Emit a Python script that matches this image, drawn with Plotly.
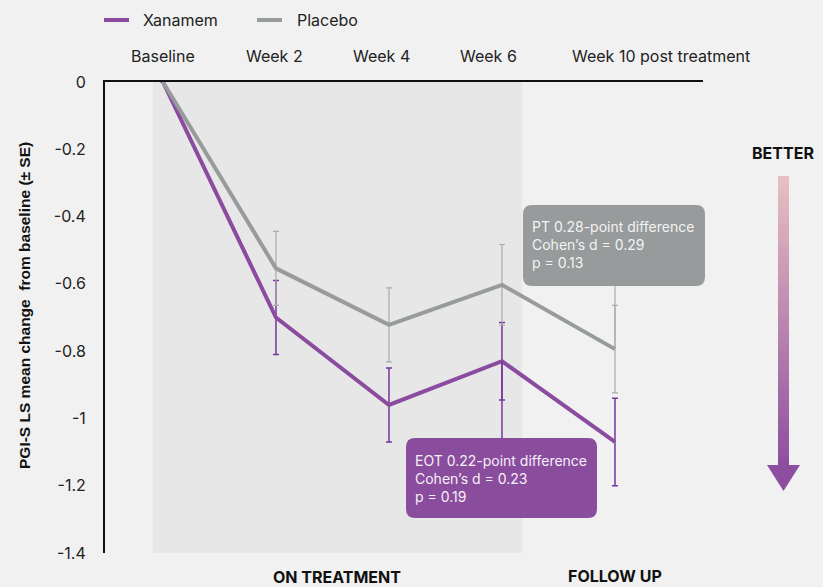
import plotly.graph_objects as go

# ---------------- data ----------------
categories = ["Baseline", "Week 2", "Week 4", "Week 6", "Week 10 post treatment"]
xanamem_mean = [0.0, -0.70, -0.96, -0.83, -1.07]
xanamem_se = [0.0, 0.11, 0.11, 0.115, 0.13]
placebo_mean = [0.0, -0.554, -0.722, -0.603, -0.794]
placebo_se = [0.0, 0.11, 0.11, 0.12, 0.13]
series_names = ["Xanamem", "Placebo"]
y_ticks = [0, -0.2, -0.4, -0.6, -0.8, -1.0, -1.2, -1.4]
y_tick_text = ["0", "-0.2", "-0.4", "-0.6", "-0.8", "-1", "-1.2", "-1.4"]
label_offsets = [0.0, -0.01, -0.07, -0.115, 0.41]   # header label shift (category units)

eot_text = "EOT 0.22-point difference<br>Cohen’s d = 0.23<br>p = 0.19"
pt_text = "PT 0.28-point difference<br>Cohen’s d = 0.29<br>p = 0.13"

# ---------------- styling ----------------
W, H = 823, 587
ML, MR, MT, MB = 105, 120, 82, 34
PW, PH = W - ML - MR, H - MT - MB
XR = [-0.513, 4.779]
YR = [-1.4, 0.0]
BG = "#f1f1f1"
PURPLE = "#8b4b9f"
PURPLE_ERR = "#7636a0"
GRAY = "#979b9c"
GRAY_ERR = "#ababab"
FONT = "Inter"
TXT = "#222222"

x_idx = list(range(len(categories)))


def px_x(px):  # pixel -> paper x
    return (px - ML) / PW


def px_y(py):  # pixel -> paper y
    return (H - MB - py) / PH


def paper_y_to_data(py_paper):
    return YR[0] + py_paper * (YR[1] - YR[0])


fig = go.Figure()

fig.add_trace(go.Scatter(
    x=x_idx, y=xanamem_mean, mode="lines", name=series_names[0],
    line=dict(color=PURPLE, width=4),
    error_y=dict(type="data", array=xanamem_se, color=PURPLE_ERR, thickness=1.5, width=3),
))
fig.add_trace(go.Scatter(
    x=x_idx, y=placebo_mean, mode="lines", name=series_names[1],
    line=dict(color=GRAY, width=4),
    error_y=dict(type="data", array=placebo_se, color=GRAY_ERR, thickness=1.2, width=3),
))

shapes = []
# on-treatment shaded band
shapes.append(dict(type="rect", xref="x", yref="y", x0=x_idx[0] - 0.09, x1=x_idx[3] + 0.18,
                   y0=YR[0], y1=YR[1], fillcolor="#e7e7e7", line=dict(width=0), layer="below"))


def rounded_rect(x0, y0, x1, y1, r):
    X0, X1 = px_x(x0), px_x(x1)
    Y0, Y1 = px_y(y1), px_y(y0)  # Y0 bottom, Y1 top (paper)
    rx, ry = r / PW, r / PH
    return (f"M{X0+rx},{Y1} L{X1-rx},{Y1} Q{X1},{Y1} {X1},{Y1-ry} "
            f"L{X1},{Y0+ry} Q{X1},{Y0} {X1-rx},{Y0} L{X0+rx},{Y0} "
            f"Q{X0},{Y0} {X0},{Y0+ry} L{X0},{Y1-ry} Q{X0},{Y1} {X0+rx},{Y1} Z")


EOT_BOX = (406, 438, 597, 518)
PT_BOX = (523, 205, 705, 286)

# connectors from boxes to the data points
shapes.append(dict(type="line", xref="x", yref="y", x0=x_idx[3], x1=x_idx[3],
                   y0=xanamem_mean[3], y1=paper_y_to_data(px_y(EOT_BOX[1])),
                   line=dict(color=PURPLE_ERR, width=1.5)))
shapes.append(dict(type="line", xref="x", yref="y", x0=x_idx[4], x1=x_idx[4],
                   y0=placebo_mean[4], y1=paper_y_to_data(px_y(PT_BOX[3])),
                   line=dict(color=GRAY_ERR, width=1.2)))

shapes.append(dict(type="path", xref="paper", yref="paper", path=rounded_rect(*EOT_BOX, 9),
                   fillcolor="#8a4c9d", line=dict(width=0)))
shapes.append(dict(type="path", xref="paper", yref="paper", path=rounded_rect(*PT_BOX, 9),
                   fillcolor="#979b9c", line=dict(width=0)))

# manual legend
for (lx, name, col) in [(104, series_names[0], PURPLE), (257, series_names[1], GRAY)]:
    shapes.append(dict(type="line", xref="paper", yref="paper", x0=px_x(lx), x1=px_x(lx + 25),
                       y0=px_y(20), y1=px_y(20), line=dict(color=col, width=4)))

# gradient arrow "BETTER"
top_c = (231, 191, 193)
bot_c = (142, 78, 159)
sx0, sx1, sy0, sy1 = 778, 789, 176, 466
N = 80
for i in range(N):
    t = i / (N - 1)
    c = tuple(int(round(top_c[k] + (bot_c[k] - top_c[k]) * t)) for k in range(3))
    ya = sy0 + (sy1 - sy0) * i / N
    yb = sy0 + (sy1 - sy0) * (i + 1) / N + 0.6
    shapes.append(dict(type="rect", xref="paper", yref="paper",
                       x0=px_x(sx0), x1=px_x(sx1), y0=px_y(yb), y1=px_y(ya),
                       fillcolor=f"rgb{c}", line=dict(width=0)))
shapes.append(dict(type="path", xref="paper", yref="paper",
                   path=f"M{px_x(767)},{px_y(465)} L{px_x(800)},{px_y(465)} L{px_x(783.5)},{px_y(491)} Z",
                   fillcolor="rgb(142,78,159)", line=dict(width=0)))

annotations = []


def ann(x, y, text, size, xanchor="center", yanchor="middle", color=TXT, family=FONT, **kw):
    annotations.append(dict(x=px_x(x), y=px_y(y), xref="paper", yref="paper", text=text,
                            showarrow=False, xanchor=xanchor, yanchor=yanchor,
                            font=dict(family=family, size=size, color=color), **kw))


for i, (cat, off) in enumerate(zip(categories, label_offsets)):
    annotations.append(dict(x=x_idx[i] + off, xref="x", y=px_y(56), yref="paper", text=cat,
                            showarrow=False, font=dict(family=FONT, size=16, color=TXT),
                            xanchor="center", yanchor="middle"))

ann(141, 20, series_names[0], 16, xanchor="left")
ann(295, 20, series_names[1], 16, xanchor="left")

ann(413, (EOT_BOX[1] + EOT_BOX[3]) / 2, eot_text, 14, xanchor="left", color="#f6f0f8", align="left")
ann(530, (PT_BOX[1] + PT_BOX[3]) / 2 - 1, pt_text, 14, xanchor="left", color="#f3f3f3", align="left")

ann(24, 306, "<b>PGI-S LS mean change  from baseline (± SE)</b>", 15.5, color="#111111",
    family="Liberation Sans", textangle=-90)
ann(337, 577, "<b>ON TREATMENT</b>", 16, color="#111111")
ann(615, 576, "<b>FOLLOW UP</b>", 16, color="#111111")
ann(783, 153, "<b>BETTER</b>", 16, color="#111111")

fig.update_layout(
    width=W, height=H,
    margin=dict(l=ML, r=MR, t=MT, b=MB, pad=0, autoexpand=False),
    paper_bgcolor=BG, plot_bgcolor=BG,
    font=dict(family=FONT, size=16, color=TXT),
    showlegend=False,
    xaxis=dict(range=XR, side="top", showgrid=False, zeroline=False, showline=True,
               linecolor="#111111", linewidth=2, showticklabels=False, ticks="", fixedrange=True),
    yaxis=dict(range=YR, tickvals=y_ticks, ticktext=y_tick_text, showgrid=False, zeroline=False,
               showline=True, linecolor="#111111", linewidth=2, ticks="outside", ticklen=14,
               tickcolor=BG, tickfont=dict(family=FONT, size=16, color=TXT)),
    shapes=shapes,
    annotations=annotations,
)

fig.write_html("out.html")
